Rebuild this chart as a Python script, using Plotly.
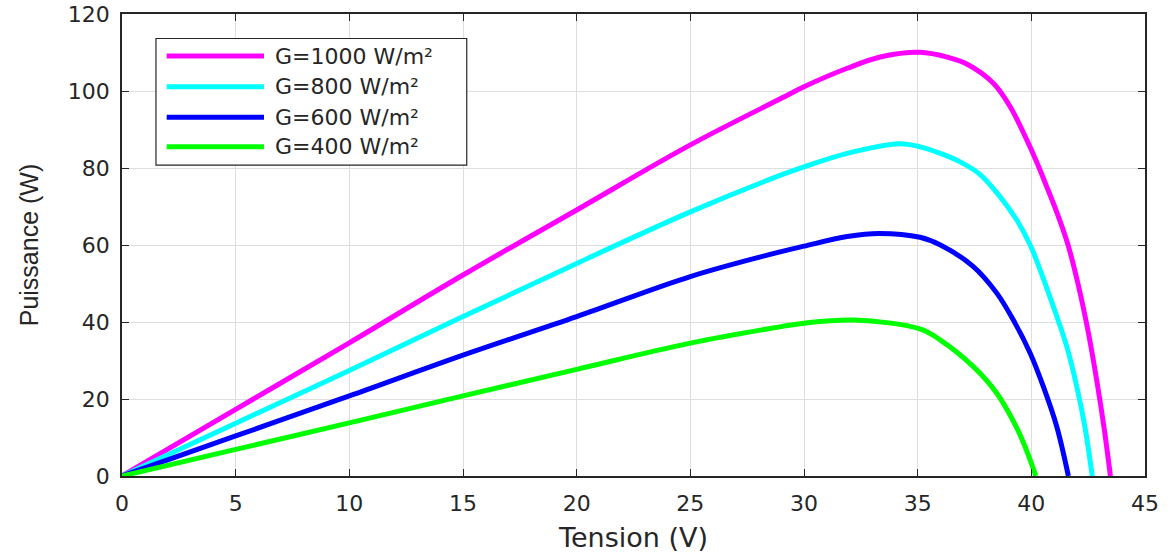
import plotly.graph_objects as go

# Data (Tension V, Puissance W)
v_1000 = [0, 5, 10, 15, 20, 25, 29, 30, 31.9, 33.4, 35.1, 36.3, 37.16, 38.33, 39.07, 39.8, 40.24,
          40.68, 41.12, 41.6, 42.05, 42.5, 42.9, 43.2, 43.48]
p_1000 = [0, 17.3, 34.6, 52.2, 69.1, 86.0, 98.1, 101.1, 105.9, 108.9, 110.05, 108.8, 107.0, 102.0, 95.9, 87.3, 81.5,
          75.1, 68.5, 60.3, 50, 37.5, 24, 12.5, 0]

v_800 = [0, 5, 10, 15, 20, 25, 29, 30, 31.9, 34.2, 35.1, 36.0, 36.87, 37.75, 38.63, 39.36, 39.95,
         40.39, 40.97, 41.56, 42.0, 42.35, 42.68]
p_800 = [0, 13.7, 27.4, 41.4, 55.2, 68.6, 78.2, 80.3, 83.8, 86.3, 85.5, 83.8, 81.6, 78.3, 72.5, 66.5, 60.0,
         53.5, 44, 33.6, 23.2, 13, 0]

v_600 = [0, 5, 10, 15, 20, 25, 29, 30, 31.9, 33.3, 35.1, 36.0, 37.45, 38.48, 39.21, 39.95, 40.53, 41.12, 41.63]
p_600 = [0, 10.4, 20.8, 31.4, 41.4, 51.8, 58.3, 59.7, 62.2, 63.0, 62.0, 60.0, 54.4, 47.5, 40.5, 31.9, 23.2, 12.8, 0]

v_400 = [0, 5, 10, 15, 20, 25, 29, 30, 32.2, 35.1, 36.0, 37.45, 38.48, 39.36, 39.8, 40.2]
p_400 = [0, 6.9, 13.8, 20.8, 27.7, 34.5, 38.8, 39.7, 40.5, 38.2, 35.3, 28.4, 21.5, 12.5, 6.5, 0]

names = ["G=1000 W/m²", "G=800 W/m²", "G=600 W/m²", "G=400 W/m²"]
colors = ["#FF00FF", "#00FFFF", "#0000FF", "#00FF00"]
series = [(v_1000, p_1000), (v_800, p_800), (v_600, p_600), (v_400, p_400)]

x_ticks = [0, 5, 10, 15, 20, 25, 30, 35, 40, 45]
y_ticks = [0, 20, 40, 60, 80, 100, 120]

WIDE = "DejaVu Sans, Verdana, sans-serif"
NARROW = "Liberation Sans, Arial, Helvetica, sans-serif"
AX = "#262626"

fig = go.Figure()
for (v, p), n, c in zip(series, names, colors):
    fig.add_trace(go.Scatter(x=v, y=p, mode="lines", name=n,
                             line=dict(color=c, width=5, shape="spline", smoothing=1.0),
                             showlegend=False))

# manual legend (MATLAB-style long line samples)
leg_rows = [0.909, 0.8427, 0.7764, 0.7128]
shapes = [dict(type="rect", xref="paper", yref="paper", x0=0.0332, x1=0.337,
               y0=0.673, y1=0.947, line=dict(color=AX, width=1.2), fillcolor="white", layer="above")]
annotations = []
for yr, n, c in zip(leg_rows, names, colors):
    shapes.append(dict(type="line", xref="paper", yref="paper", x0=0.0437, x1=0.1388,
                       y0=yr, y1=yr, line=dict(color=c, width=5), layer="above"))
    annotations.append(dict(xref="paper", yref="paper", x=0.1473, y=yr, text=n,
                            showarrow=False, xanchor="left", yanchor="middle",
                            font=dict(family=WIDE, size=22, color=AX)))

axis_common = dict(showline=True, linecolor=AX, linewidth=1.5, mirror="ticks",
                   ticks="inside", ticklen=7, tickcolor=AX, tickwidth=1.2,
                   showgrid=True, gridcolor="#DEDEDE", gridwidth=1,
                   zeroline=False, automargin=False, ticklabeloverflow="allow",
                   tickfont=dict(family=WIDE, size=22, color=AX))

fig.update_layout(
    width=1172, height=556,
    margin=dict(l=122, r=27, t=14, b=80),
    paper_bgcolor="white", plot_bgcolor="white",
    shapes=shapes, annotations=annotations,
    xaxis=dict(range=[0, 45], tickvals=x_ticks, ticktext=[str(t) for t in x_ticks],
               ticklabelstandoff=7,
               title=dict(text="Tension (V)", font=dict(family=WIDE, size=27, color=AX), standoff=13),
               **axis_common),
    yaxis=dict(range=[0, 120], tickvals=y_ticks, ticktext=[str(t) for t in y_ticks],
               ticklabelstandoff=6,
               title=dict(text="Puissance (W)", font=dict(family=NARROW, size=25, color=AX), standoff=22),
               **axis_common),
)

# remove the browser's default 8px body margin so the figure fills the window exactly
fig.write_html("out.html", config={"displayModeBar": False},
               post_script="document.body.style.margin='0';")
